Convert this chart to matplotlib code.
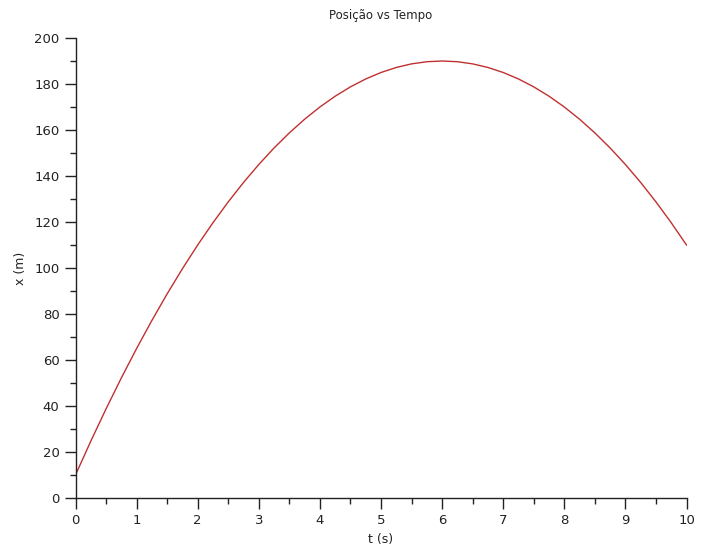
import matplotlib
matplotlib.use("Agg")
import matplotlib.pyplot as plt
from matplotlib.ticker import MultipleLocator

# posicao, a cada 0.25 s
t = [0.0, 0.25, 0.5, 0.75, 1.0, 1.25, 1.5, 1.75, 2.0, 2.25,
     2.5, 2.75, 3.0, 3.25, 3.5, 3.75, 4.0, 4.25, 4.5, 4.75,
     5.0, 5.25, 5.5, 5.75, 6.0, 6.25, 6.5, 6.75, 7.0, 7.25,
     7.5, 7.75, 8.0, 8.25, 8.5, 8.75, 9.0, 9.25, 9.5, 9.75, 10.0]
x = [10.0, 24.69, 38.75, 52.19, 65.0, 77.19, 88.75, 99.69, 110.0, 119.69,
     128.75, 137.19, 145.0, 152.19, 158.75, 164.69, 170.0, 174.69, 178.75, 182.19,
     185.0, 187.19, 188.75, 189.69, 190.0, 189.69, 188.75, 187.19, 185.0, 182.19,
     178.75, 174.69, 170.0, 164.69, 158.75, 152.19, 145.0, 137.19, 128.75, 119.69, 110.0]

fig = plt.figure(figsize=(7.03, 5.52), dpi=100)
ax = fig.add_axes([75.5 / 703, 1 - 498 / 552, (686.5 - 75.5) / 703, (498 - 38) / 552])

ax.plot(t, x, color="#c03030", linewidth=1.0)

ax.set_xlim(0, 10)
ax.set_ylim(0, 200)
ax.xaxis.set_major_locator(MultipleLocator(1))
ax.xaxis.set_minor_locator(MultipleLocator(0.5))
ax.yaxis.set_major_locator(MultipleLocator(20))
ax.yaxis.set_minor_locator(MultipleLocator(10))

for s in ["top", "right"]:
    ax.spines[s].set_visible(False)
for s in ["left", "bottom"]:
    ax.spines[s].set_color("#222222")
    ax.spines[s].set_linewidth(1.0)

ax.tick_params(which="major", length=8, width=1.0, color="#222222",
               labelsize=9.5, labelcolor="#222222")
ax.tick_params(which="minor", length=4, width=1.0, color="#222222")

ax.set_xlabel("t (s)", fontsize=9, color="#222222", labelpad=4)
ax.set_ylabel("x (m)", fontsize=9, color="#222222", labelpad=5)
ax.set_title("Posição vs Tempo", fontsize=8.5, color="#222222", pad=14)

fig.savefig("out.png", dpi=100)
